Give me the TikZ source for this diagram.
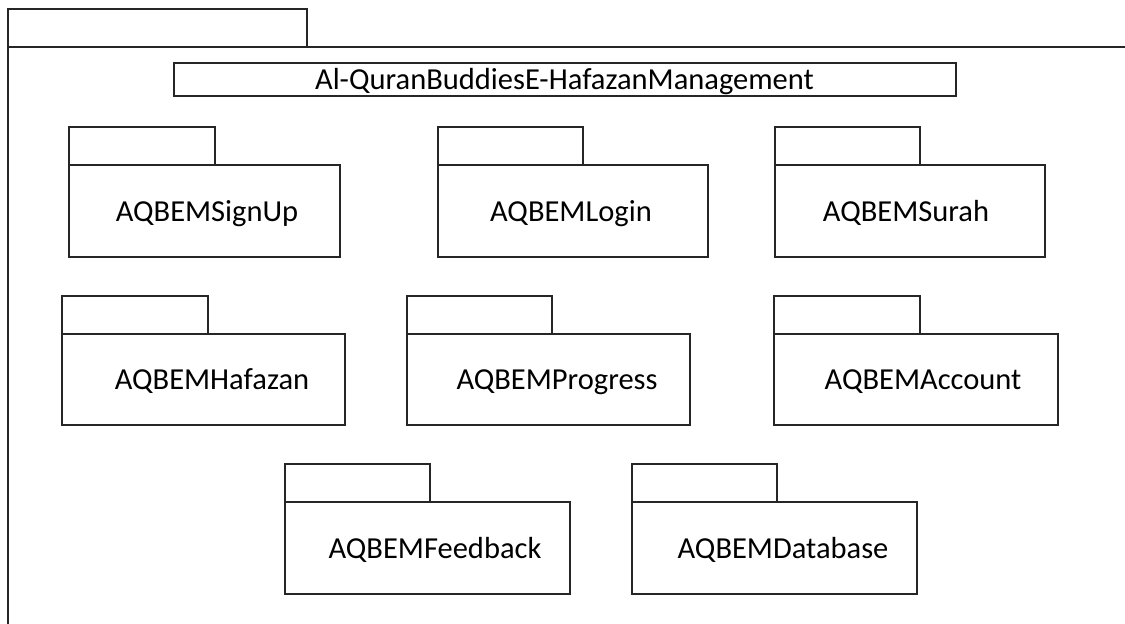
\documentclass[tikz,border=0pt]{standalone}
\usepackage{fontspec}
\setmainfont{Carlito}
\tikzset{
  pkgline/.style={draw=black!85, line width=1.1pt},
  pkgtext/.style={anchor=base, inner sep=0pt, font=\fontsize{30.5pt}{36pt}\selectfont},
}
\newcommand{\pkgbox}[9]{%
  \draw[pkgline] (#2,#5) rectangle (#3,#6);
  \draw[pkgline] (#2,#6) rectangle (#4,#7);
  \node[pkgtext] (#1) at (#8,#9) {AQBEM#1};
}
\begin{document}
\begin{tikzpicture}[x=1pt,y=-1pt]
\useasboundingbox (0,0) rectangle (1125,624);
\clip (0,0) rectangle (1125,624);
\fill[white] (0,0) rectangle (1125,624);
% outer frame
\draw[pkgline] (8,9) rectangle (307,47);
\draw[pkgline] (8,640) -- (8,47) -- (1140,47);
% title
\draw[pkgline] (174,63) rectangle (956,96);
\node[pkgtext] (title) at (564.5,89) {Al-QuranBuddiesE-HafazanManagement};
% packages
\pkgbox{SignUp}{69}{215}{340}{127}{165}{257}{207}{221}
\pkgbox{Login}{438}{583}{708}{127}{165}{257}{571}{221}
\pkgbox{Surah}{775}{920}{1045}{127}{165}{257}{906}{221}
\pkgbox{Hafazan}{62}{208}{345}{296}{334}{425}{212}{389}
\pkgbox{Progress}{407}{552}{690}{296}{334}{425}{557}{389}
\pkgbox{Account}{774}{920}{1058}{296}{334}{425}{923}{389}
\pkgbox{Feedback}{285}{430}{570}{464}{502}{594}{435}{558}
\pkgbox{Database}{632}{777}{917}{464}{502}{594}{783}{558}
\end{tikzpicture}
\end{document}
